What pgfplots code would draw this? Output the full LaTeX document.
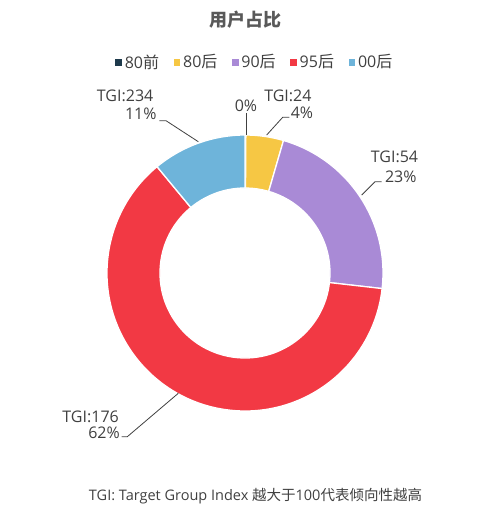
\documentclass[border=0pt]{standalone}
\usepackage{fontspec}
\setmainfont{Open Sans}
\newfontfamily\cjk{Noto Sans CJK SC}
\usepackage{pgfplots}
\usepackage{pgfplotstable}
\pgfplotsset{compat=1.18}

\definecolor{c80q}{HTML}{1E3A4C}
\definecolor{c80h}{HTML}{F6C744}
\definecolor{c90h}{HTML}{A98AD6}
\definecolor{c95h}{HTML}{F23944}
\definecolor{c00h}{HTML}{6EB4DA}
\definecolor{labgray}{HTML}{404040}
\definecolor{titlegray}{HTML}{595959}

% share of users (percent), clockwise from 12 o'clock
\pgfplotstableread{
pct  col
0.1  c80q
4.4  c80h
22.3 c90h
62.2 c95h
11.0 c00h
}\sharetable

\newcommand\donutslice[3]{%
  \pgfmathsetmacro\aone{90-3.6*#1}%
  \pgfmathsetmacro\atwo{90-3.6*#2}%
  \edef\slicetmp{\noexpand\fill[#3, draw=white, line width=1.3pt]
    (axis cs:245,242) ++(\aone:138pt)
    arc[start angle=\aone, end angle=\atwo, radius=138pt]
    -- ++(\atwo+180:53pt)
    arc[start angle=\atwo, end angle=\aone, radius=85pt] -- cycle;}%
  \slicetmp}

\begin{document}
\begin{tikzpicture}
\begin{axis}[
  x=1pt, y=1pt,
  xmin=0, xmax=490, ymin=0, ymax=515,
  hide axis, clip=false,
  legend style={at={(axis description cs:0.518,0.8796)}, anchor=center,
    draw=none, fill=none, legend columns=5,
    inner sep=0pt,
    nodes={inner xsep=0pt},
    font=\fontsize{16}{18}\selectfont, text=labgray,
    /tikz/every odd column/.append style={column sep=3.5pt},
    /tikz/every even column/.append style={column sep=14.5pt}},
  legend cell align=left,
]
\path (axis cs:0,0) rectangle (axis cs:490,515);

\addlegendimage{legend image code/.code={\fill[c80q] (0pt,-2.8pt) rectangle (5.6pt,2.8pt);}}
\addlegendentry{80{\cjk 前}}
\addlegendimage{legend image code/.code={\fill[c80h] (0pt,-2.8pt) rectangle (5.6pt,2.8pt);}}
\addlegendentry{80{\cjk 后}}
\addlegendimage{legend image code/.code={\fill[c90h] (0pt,-2.8pt) rectangle (5.6pt,2.8pt);}}
\addlegendentry{90{\cjk 后}}
\addlegendimage{legend image code/.code={\fill[c95h] (0pt,-2.8pt) rectangle (5.6pt,2.8pt);}}
\addlegendentry{95{\cjk 后}}
\addlegendimage{legend image code/.code={\fill[c00h] (0pt,-2.8pt) rectangle (5.6pt,2.8pt);}}
\addlegendentry{00{\cjk 后}}

\gdef\cumstart{0}
\pgfplotsforeachungrouped \i in {0,...,4}{%
  \pgfplotstablegetelem{\i}{pct}\of\sharetable
  \let\slicepct\pgfplotsretval
  \pgfplotstablegetelem{\i}{col}\of\sharetable
  \let\slicecol\pgfplotsretval
  \pgfmathsetmacro\cumend{\cumstart+\slicepct}%
  \donutslice{\cumstart}{\cumend}{\slicecol}%
  \global\let\cumstart\cumend
}

% title
\node[font=\fontsize{18}{20}\selectfont\bfseries\cjk, text=titlegray] at (axis cs:245,495) {用户占比};

% labels
\begin{scope}[every node/.style={font=\fontsize{16}{18}\selectfont, text=labgray, inner sep=0pt}]
\node[anchor=base east] at (axis cs:153.5,413.3) {TGI:234};
\node[anchor=base east] at (axis cs:156.7,395) {11\%};
\node[anchor=base] at (axis cs:246,403.3) {0\%};
\node[anchor=base east] at (axis cs:311.7,413.3) {TGI:24};
\node[anchor=base east] at (axis cs:313.3,396) {4\%};
\node[anchor=base east] at (axis cs:418.3,352) {TGI:54};
\node[anchor=base east] at (axis cs:416.7,332) {23\%};
\node[anchor=base east] at (axis cs:119,92.5) {TGI:176};
\node[anchor=base east] at (axis cs:120,76.6) {62\%};
\end{scope}

% leader lines
\begin{scope}[draw=labgray, line width=0.8pt]
\draw (axis cs:159.3,394.3) -- (axis cs:166,394.3) -- (axis cs:198.3,373.3);
\draw (axis cs:246.7,402) -- (axis cs:246.7,380);
\draw (axis cs:289.3,397.7) -- (axis cs:282.7,397.7) -- (axis cs:266.7,380);
\draw (axis cs:381.7,333.3) -- (axis cs:375,333.3) -- (axis cs:361.7,320);
\draw (axis cs:121.7,78.3) -- (axis cs:127.3,78.3) -- (axis cs:178.3,121.7);
\end{scope}

% footnote
\node[font=\fontsize{14.5}{16}\selectfont, text=labgray] at (axis cs:255.5,19)
  {TGI: Target Group Index {\cjk 越大于}100{\cjk 代表倾向性越高}};
\end{axis}
\end{tikzpicture}
\end{document}
